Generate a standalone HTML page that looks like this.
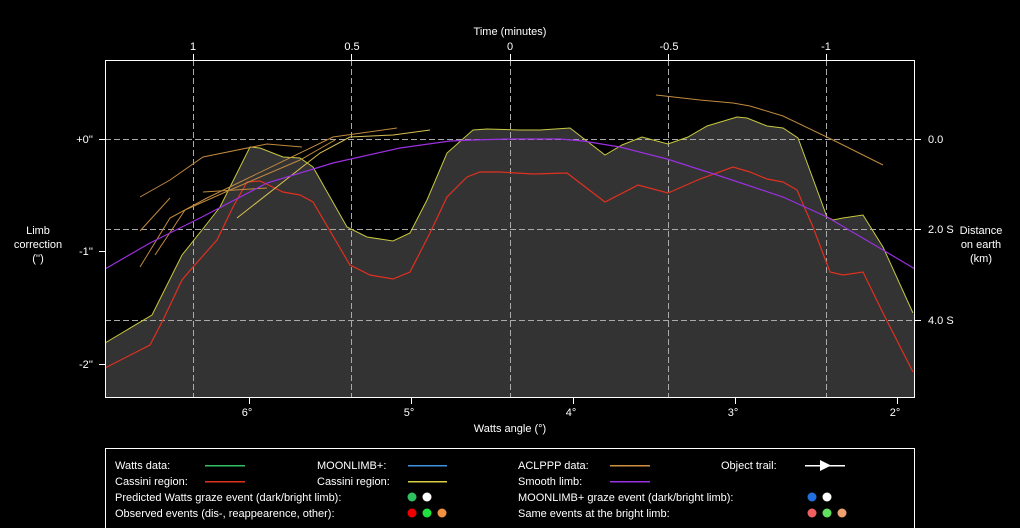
<!DOCTYPE html>
<html><head><style>
html,body{margin:0;padding:0;background:#000;}
svg{display:block;}
text{font-family:"Liberation Sans",sans-serif;font-size:11px;fill:#fff;}
</style></head><body>
<svg width="1020" height="528" viewBox="0 0 1020 528" xmlns="http://www.w3.org/2000/svg">
<rect width="1020" height="528" fill="#000"/>
<polygon fill="#333" points="105,343 152,315 182,255 202,230 220,207 250,147 260,148 283,157 300,158 313,167 347,227 367,237 393,241 410,233 427,200 447,153 473,130 487,129 520,130 540,130 570,128 583,138 605,155 622,145 642,137 668,144 688,137 707,126 737,117 747,118 767,126 783,128 798,138 827,217 833,220 843,218 863,215 883,247 913,313 915,316 915,398 105,398"/>
<g stroke="#aaa" stroke-width="1" stroke-dasharray="6,3" fill="none">
<line x1="105" y1="139.5" x2="915" y2="139.5"/>
<line x1="105" y1="229.5" x2="915" y2="229.5"/>
<line x1="105" y1="320.5" x2="915" y2="320.5"/>
<line x1="193.5" y1="60" x2="193.5" y2="398"/>
<line x1="351.5" y1="60" x2="351.5" y2="398"/>
<line x1="510.5" y1="60" x2="510.5" y2="398"/>
<line x1="668.5" y1="60" x2="668.5" y2="398"/>
<line x1="826.5" y1="60" x2="826.5" y2="398"/>
</g>
<polyline fill="none" stroke="#c8c840" stroke-width="1" points="105,343 152,315 182,255 202,230 220,207 250,147 260,148 283,157 300,158 313,167 347,227 367,237 393,241 410,233 427,200 447,153 473,130 487,129 520,130 540,130 570,128 583,138 605,155 622,145 642,137 668,144 688,137 707,126 737,117 747,118 767,126 783,128 798,138 827,217 833,220 843,218 863,215 883,247 913,313"/>
<polyline fill="none" stroke="#e03020" stroke-width="1.2" points="105,368 150,345 163,320 182,280 193,267 217,240 233,207 247,182 260,181 283,192 300,195 313,202 350,265 370,275 393,279 410,272 430,233 447,197 467,177 480,172 500,172 533,174 567,173 605,202 638,185 668,193 700,179 733,167 750,172 767,179 783,182 797,190 813,227 830,272 843,275 863,272 883,313 913,372"/>
<g fill="none" stroke="#c08a40" stroke-width="1">
<polyline points="656,95 700,100 733,103 750,106 783,116 833,140 883,165"/>
<polyline points="140,197 170,180 203,157 267,144 302,147"/>
<polyline points="140,231 170,198"/>
<polyline points="140,267 170,218 207,198 333,137 397,128"/>
<polyline points="203,192 267,188"/>
<polyline points="155,255 185,210 230,190 300,160 335,140"/>
</g>
<polyline fill="none" stroke="#d8c050" stroke-width="1" points="237,218 320,153 350,137 393,135 430,130"/>
<polyline fill="none" stroke="#9a30e0" stroke-width="1.2" points="105,269 150,243 200,218 267,183 333,163 400,148 450,141 473,140 510,139 560,139 583,141 620,147 667,159 720,176 783,197 827,217 883,250 915,269"/>
<rect x="105.5" y="60.5" width="809" height="337" fill="none" stroke="#fff" stroke-width="1"/>
<g stroke="#fff">
<line x1="193.5" y1="54" x2="193.5" y2="60"/><line x1="351.5" y1="54" x2="351.5" y2="60"/><line x1="510.5" y1="54" x2="510.5" y2="60"/><line x1="668.5" y1="54" x2="668.5" y2="60"/><line x1="826.5" y1="54" x2="826.5" y2="60"/>
<line x1="249.5" y1="398" x2="249.5" y2="404"/><line x1="411.5" y1="398" x2="411.5" y2="404"/><line x1="573.5" y1="398" x2="573.5" y2="404"/><line x1="735.5" y1="398" x2="735.5" y2="404"/><line x1="897.5" y1="398" x2="897.5" y2="404"/>
<line x1="99" y1="139.5" x2="105" y2="139.5"/><line x1="99" y1="251.5" x2="105" y2="251.5"/><line x1="99" y1="364.5" x2="105" y2="364.5"/>
<line x1="915" y1="139.5" x2="921" y2="139.5"/><line x1="915" y1="229.5" x2="921" y2="229.5"/><line x1="915" y1="320.5" x2="921" y2="320.5"/>
</g>
<text x="510" y="35" text-anchor="middle">Time (minutes)</text>
<g text-anchor="middle">
<text x="193" y="50">1</text><text x="352" y="50">0.5</text><text x="510" y="50">0</text><text x="669" y="50">-0.5</text><text x="826" y="50">-1</text>
<text x="247" y="416">6°</text><text x="409" y="416">5°</text><text x="571" y="416">4°</text><text x="733" y="416">3°</text><text x="895" y="416">2°</text>
<text x="510" y="432">Watts angle (°)</text>
<text x="38" y="234">Limb</text><text x="38" y="248">correction</text><text x="38" y="262">('')</text>
<text x="981" y="234">Distance</text><text x="981" y="248">on earth</text><text x="981" y="262">(km)</text>
</g>
<g text-anchor="end">
<text x="93" y="143">+0''</text><text x="93" y="255">-1''</text><text x="93" y="368">-2''</text>
</g>
<text x="928" y="143">0.0</text><text x="928" y="233">2.0 S</text><text x="928" y="324">4.0 S</text>
<rect x="105.5" y="448.5" width="809" height="85" fill="#000" stroke="#fff"/>
<text x="115" y="469">Watts data:</text>
<rect x="205" y="465" width="40" height="1.5" fill="#30c060"/>
<text x="317" y="469">MOONLIMB+:</text>
<rect x="408" y="465" width="39" height="1.5" fill="#4090e0"/>
<text x="518" y="469">ACLPPP data:</text>
<rect x="610" y="465" width="40" height="1.5" fill="#d09040"/>
<text x="721" y="469">Object trail:</text>
<rect x="805" y="465" width="40" height="1.5" fill="#fff"/>
<polygon points="820,460 831,465.5 820,471" fill="#fff"/>
<text x="115" y="485">Cassini region:</text>
<rect x="205" y="481" width="40" height="1.5" fill="#e03020"/>
<text x="317" y="485">Cassini region:</text>
<rect x="408" y="481" width="39" height="1.5" fill="#d8d040"/>
<text x="518" y="485">Smooth limb:</text>
<rect x="610" y="481" width="40" height="1.5" fill="#9a30e0"/>
<text x="115" y="501">Predicted Watts graze event (dark/bright limb):</text>
<circle cx="412" cy="497" r="4.5" fill="#30c060"/><circle cx="427" cy="497" r="4.5" fill="#fff"/>
<text x="518" y="501">MOONLIMB+ graze event (dark/bright limb):</text>
<circle cx="812" cy="497" r="4.5" fill="#2070e0"/><circle cx="827" cy="497" r="4.5" fill="#fff"/>
<text x="115" y="517">Observed events (dis-, reappearence, other):</text>
<circle cx="412" cy="513" r="4.5" fill="#f00000"/><circle cx="427" cy="513" r="4.5" fill="#20e040"/><circle cx="442" cy="513" r="4.5" fill="#f09040"/>
<text x="518" y="517">Same events at the bright limb:</text>
<circle cx="812" cy="513" r="4.5" fill="#f06060"/><circle cx="827" cy="513" r="4.5" fill="#60e060"/><circle cx="842" cy="513" r="4.5" fill="#f0a070"/>
</svg>
</body></html>
